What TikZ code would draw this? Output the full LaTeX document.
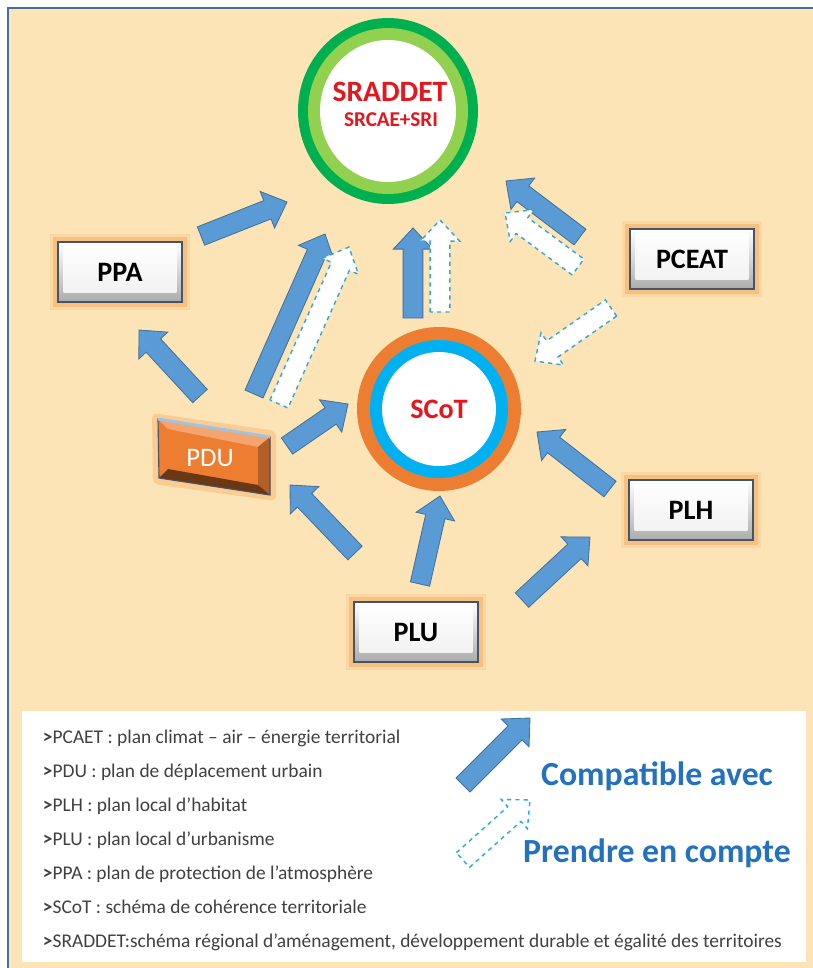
\documentclass[tikz,border=0pt]{standalone}
\usepackage{fontspec}
\setmainfont{Carlito}
\usetikzlibrary{calc}

\definecolor{peach}{RGB}{252,228,182}
\definecolor{framec}{RGB}{65,113,156}
\definecolor{arrowblue}{RGB}{91,155,213}
\definecolor{arrowedge}{RGB}{65,113,156}
\definecolor{dashcyan}{RGB}{46,168,216}
\definecolor{darkgreen}{RGB}{0,176,80}
\definecolor{lightgreen}{RGB}{146,208,80}
\definecolor{ringorange}{RGB}{237,125,49}
\definecolor{ringcyan}{RGB}{0,176,240}
\definecolor{titlered}{RGB}{228,22,30}
\definecolor{glow}{RGB}{247,170,90}
\definecolor{slate}{RGB}{68,84,106}
\definecolor{legendblue}{RGB}{36,114,190}
\definecolor{legendgray}{RGB}{64,64,64}

% block arrow from #2 (tail) to #3 (tip)
\newcommand{\fatarrow}[3][blk]{%
  \draw[#1] let \p1=(#2), \p2=(#3), \p3=($(\p2)!15pt!(\p1)$) in
    ($(\p1)!7pt!90:(\p2)$) -- ($(\p3)!7pt!90:(\p2)$) -- ($(\p3)!14pt!90:(\p2)$)
    -- (\p2) -- ($(\p3)!14pt!-90:(\p2)$) -- ($(\p3)!7pt!-90:(\p2)$)
    -- ($(\p1)!7pt!-90:(\p2)$) -- cycle;}

\tikzset{
  blk/.style={fill=arrowblue, draw=arrowedge, line width=0.6pt},
  dsh/.style={fill=white, draw=dashcyan, dashed, line width=1pt},
  plan/.style={rectangle, minimum width=3.1cm, minimum height=1.5cm, inner sep=0pt,
    draw=slate, line width=1.3pt, top color=white, bottom color=gray!65,
    font=\fontsize{20}{24}\selectfont\bfseries,
    preaction={draw=glow, line width=12pt, opacity=.2, rounded corners=6pt},
    preaction={draw=glow, line width=7pt, opacity=.5, rounded corners=3pt},
    path picture={\shade[top color=white, bottom color=gray!12]
      ([shift={(4pt,-3pt)}]path picture bounding box.north west) rectangle
      ([shift={(-4pt,7pt)}]path picture bounding box.south east);}},
  legend/.style={anchor=base west, text=legendgray, font=\fontsize{13.8}{16}\selectfont},
  key/.style={text=legendblue, font=\fontsize{24}{28}\selectfont\bfseries}
}

\begin{document}
\begin{tikzpicture}[x=0.025cm, y=-0.025cm]
\useasboundingbox (0,0) rectangle (813,968);
% frame
\fill[peach] (8,8) rectangle (813,968);
\draw[framec, line width=1.5pt] (8,968) -- (8,8) -- (813,8);

% SRADDET
\fill[darkgreen] (388,111) ellipse [x radius=90, y radius=93];
\fill[lightgreen] (388,111) ellipse [x radius=80, y radius=83];
\fill[white] (388,111) ellipse [x radius=68, y radius=71];
\node[text=titlered, font=\fontsize{21}{25}\selectfont\bfseries] (sraddet) at (390,92) {SRADDET};
\node[text=titlered, font=\fontsize{15}{18}\selectfont\bfseries] (srcae) at (391,120) {SRCAE+SRI};

% SCoT
\fill[ringorange] (439,409) circle [radius=82];
\fill[ringcyan] (439,409) circle [radius=69];
\fill[white] (439,409) circle [radius=57];
\node[text=titlered, font=\fontsize{20}{24}\selectfont\bfseries] (scot) at (439,409) {SCoT};

% plans
\node[plan] (ppa) at (120,272) {PPA};
\node[plan] (pceat) at (692,259) {PCEAT};
\node[plan] (plh) at (691,510) {PLH};
\node[plan] (plu) at (416,632) {PLU};

% PDU
\fill[glow, opacity=.4, rounded corners=4pt] (152,413) -- (276,431) -- (276,501) -- (153,484) -- cycle;
\fill[ringorange] (158,419) -- (270,437) -- (270,495) -- (159,478) -- cycle;
\fill[ringorange!70!white] (158,419) -- (270,437) -- (258,447) -- (168,429) -- cycle;
\fill[ringorange!75!black] (270,437) -- (270,495) -- (258,485) -- (258,447) -- cycle;
\fill[ringorange!45!black] (159,478) -- (270,495) -- (258,485) -- (168,469) -- cycle;
\draw[slate, line width=0.8pt] (158,419) -- (270,437) -- (270,495) -- (159,478) -- cycle;
\draw[arrowblue!60!white, line width=2pt] (158,419) -- (270,437);
\node[text=white, font=\fontsize{19}{22}\selectfont] (pdu) at (210,458) {PDU};

% arrows
\foreach \xa/\ya/\xb/\yb in {201/236/287/202, 254/394/325/234, 413/318/413/228,
  580/237/506/181, 200/396/139/330, 287/446/348/404, 355/553/290/485,
  420/584/440/496, 522/600/590/537, 610/489/537/432}
  \fatarrow{\xa,\ya}{\xb,\yb};
\foreach \xa/\ya/\xb/\yb in {279/404/349/247, 440/312/440/220,
  578/267/505/213, 611/308/535/361}
  \fatarrow[dsh]{\xa,\ya}{\xb,\yb};

% legend
\fill[white] (22,711) rectangle (806,962);
\foreach \t [count=\i from 0] in {PCAET : plan climat – air – énergie territorial,
  PDU : plan de déplacement urbain, PLH : plan local d’habitat,
  PLU : plan local d’urbanisme, PPA : plan de protection de l’atmosphère,
  SCoT : schéma de cohérence territoriale,
  {SRADDET:schéma régional d’aménagement, développement durable et égalité des territoires}}
  \node[legend] (leg\i) at (38,{743+34*\i}) {\textbf{>}\t};
\fatarrow{463,785}{530,718};
\fatarrow[dsh]{463,860}{530,800};
\node[key] (compat) at (657,776) {Compatible avec};
\node[key] (prendre) at (657,853) {Prendre en compte};
\end{tikzpicture}
\end{document}
